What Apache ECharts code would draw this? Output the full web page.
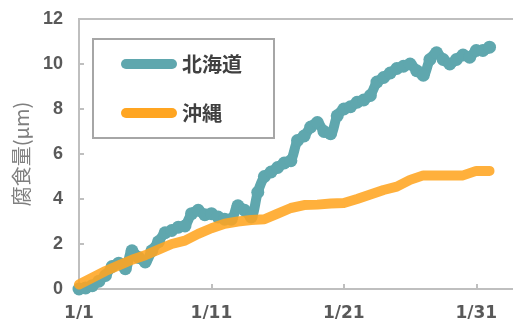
<!DOCTYPE html>
<html>
<head>
<meta charset="utf-8">
<script src="https://cdn.jsdelivr.net/npm/echarts@6/dist/echarts.min.js"></script>
<style>
  html, body { margin: 0; padding: 0; background: #fff; }
  #main { width: 513px; height: 319px; }
</style>
</head>
<body>
<div id="main"></div>
<script>
// 日数（1/1 からの経過日）と腐食量
const hokkaidoDays = [0, 0.5, 1, 1.5, 2, 2.5, 3, 3.5, 4, 4.5, 5, 5.5, 6, 6.5, 7, 7.5, 8, 8.5, 9, 9.5,
  10, 10.5, 11, 11.5, 12, 12.5, 13, 13.5, 14, 14.5, 15, 15.5, 16, 16.5, 17, 17.5, 18, 18.5, 19, 19.5,
  20, 20.5, 21, 21.5, 22, 22.5, 23, 23.5, 24, 24.5, 25, 25.5, 26, 26.5, 27, 27.5, 28, 28.5, 29, 29.5,
  30, 30.5, 31];
const hokkaidoVals = [0.0, 0.05, 0.15, 0.35, 0.6, 1.0, 1.15, 0.9, 1.7, 1.4, 1.2, 1.7, 2.1, 2.5, 2.6, 2.75, 2.8, 3.35, 3.5, 3.3,
  3.35, 3.2, 3.1, 3.1, 3.7, 3.5, 3.2, 4.3, 5.0, 5.2, 5.4, 5.6, 5.7, 6.6, 6.8, 7.2, 7.4, 7.0, 6.9, 7.7,
  8.0, 8.1, 8.3, 8.4, 8.6, 9.2, 9.4, 9.6, 9.8, 9.9, 10.0, 9.7, 9.5, 10.2, 10.5, 10.2, 10.0, 10.2, 10.4, 10.3,
  10.6, 10.6, 10.75];

const okinawaDays = [0, 1, 2, 3, 4, 5, 6, 7, 8, 9, 10, 11, 12, 13, 14, 15, 16, 17, 18, 19,
  20, 21, 22, 23, 24, 25, 26, 27, 28, 29, 30, 31];
const okinawaVals = [0.2, 0.5, 0.8, 1.05, 1.3, 1.5, 1.75, 2.0, 2.15, 2.45, 2.7, 2.9, 3.0, 3.07, 3.1, 3.35, 3.6, 3.73, 3.75, 3.8,
  3.82, 4.0, 4.2, 4.4, 4.55, 4.85, 5.05, 5.05, 5.05, 5.05, 5.25, 5.25];

const seriesNames = ['北海道', '沖縄'];
const yTicks = [0, 2, 4, 6, 8, 10, 12];

const pair = (xs, ys) => xs.map((x, i) => [x, ys[i]]);

const chart = echarts.init(document.getElementById('main'));
chart.setOption({
  animation: false,
  backgroundColor: '#fff',
  grid: {
    left: 79, top: 19, bottom: 30, right: -3,
    outerBoundsMode: 'none',
    containLabel: false,
    show: true,
    borderColor: '#bfbfbf',
    borderWidth: 2
  },
  legend: {
    data: seriesNames,
    orient: 'vertical',
    left: 93,
    top: 39,
    padding: [15, 32, 15, 28],
    itemGap: 29,
    itemWidth: 56,
    itemHeight: 10,
    backgroundColor: '#fff',
    borderColor: '#a6a6a6',
    borderWidth: 2,
    borderRadius: 0,
    icon: 'path://M5,0 L51,0 A5,5 0 0 1 51,10 L5,10 A5,5 0 0 1 5,0 Z',
    textStyle: {
      fontFamily: 'Noto Sans CJK JP',
      fontWeight: 'bold',
      fontSize: 20,
      color: '#404040'
    }
  },
  xAxis: {
    type: 'value',
    min: 0,
    max: 33,
    interval: 10,
    axisLine: { show: true, lineStyle: { color: '#bfbfbf', width: 2 } },
    axisTick: { show: true, inside: true, length: 5, lineStyle: { color: '#bfbfbf', width: 2 } },
    splitLine: { show: false },
    axisLabel: {
      showMaxLabel: false,
      margin: 16,
      fontFamily: 'DejaVu Sans',
      fontWeight: 'bold',
      fontSize: 17,
      color: '#595959',
      formatter: v => '1/' + (v + 1)
    }
  },
  yAxis: {
    type: 'value',
    min: yTicks[0],
    max: yTicks[yTicks.length - 1],
    interval: 2,
    name: '腐食量(μm)',
    nameLocation: 'middle',
    nameGap: 48,
    nameMoveOverlap: false,
    nameTextStyle: {
      fontFamily: 'Noto Sans CJK JP',
      fontSize: 20,
      color: '#7f7f7f'
    },
    axisLine: { show: true, lineStyle: { color: '#bfbfbf', width: 2 } },
    axisTick: { show: true, inside: true, length: 5, lineStyle: { color: '#bfbfbf', width: 2 } },
    splitLine: { show: false },
    axisLabel: {
      margin: 16,
      fontFamily: 'Liberation Sans',
      fontWeight: 'bold',
      fontSize: 18,
      color: '#595959'
    }
  },
  series: [
    {
      name: seriesNames[0],
      type: 'line',
      z: 2,
      data: pair(hokkaidoDays, hokkaidoVals),
      smooth: 0.3,
      showSymbol: true,
      symbol: 'circle',
      symbolSize: 13,
      color: '#5fa7ae',
      itemStyle: { color: '#5fa7ae', borderWidth: 0 },
      lineStyle: { color: '#5fa7ae', width: 10, cap: 'round', join: 'round' },
      emphasis: { disabled: true }
    },
    {
      name: seriesNames[1],
      type: 'line',
      z: 5,
      data: pair(okinawaDays, okinawaVals),
      showSymbol: false,
      symbol: 'none',
      color: '#ffa521',
      itemStyle: { color: '#ffa521' },
      lineStyle: { color: '#ffa521', width: 10, opacity: 0.88, cap: 'round', join: 'round' },
      emphasis: { disabled: true }
    }
  ]
});
</script>
</body>
</html>
